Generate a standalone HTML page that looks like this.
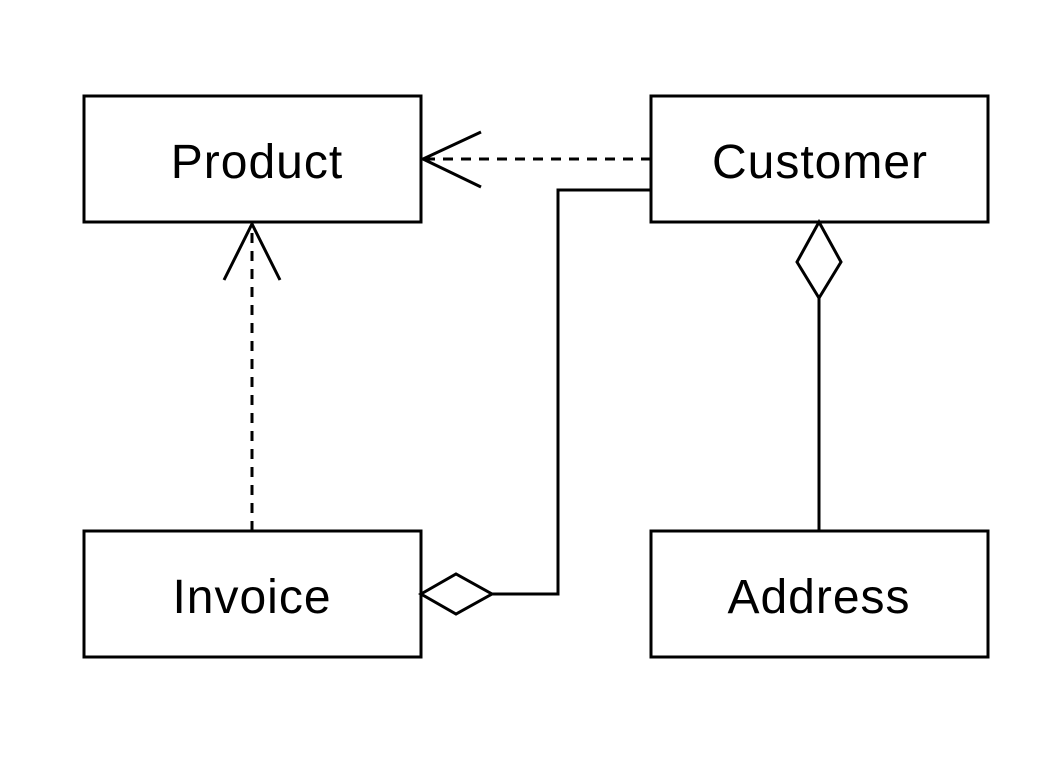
<!DOCTYPE html>
<html><head><style>html,body{margin:0;padding:0;background:#fff}</style></head>
<body>
<svg width="1060" height="754" viewBox="0 0 1060 754" xmlns="http://www.w3.org/2000/svg">
<g fill="#fff" stroke="#000" stroke-width="3">
<rect x="84" y="96" width="337" height="126"/>
<rect x="651" y="96" width="337" height="126"/>
<rect x="84" y="531" width="337" height="126"/>
<rect x="651" y="531" width="337" height="126"/>
</g>
<g fill="none" stroke="#000" stroke-width="3">
<line x1="651" y1="159" x2="424" y2="159" stroke-dasharray="10,8"/>
<polyline points="481,132 423,159 481,187"/>
<line x1="252" y1="531" x2="252" y2="225" stroke-dasharray="10,8"/>
<polyline points="224,280 252,224 280,280"/>
<polyline points="651,190 558,190 558,594 492,594"/>
<polygon points="421,594 456,574 492,594 456,614" fill="#fff"/>
<line x1="819" y1="298" x2="819" y2="531"/>
<polygon points="819,222 841,262 819,298 797,262" fill="#fff"/>
</g>
<g font-family="Liberation Sans, Arial, sans-serif" font-size="48" letter-spacing="1" text-anchor="middle" fill="#000">
<text x="257" y="178">Product</text>
<text x="820" y="178">Customer</text>
<text x="252" y="613">Invoice</text>
<text x="819" y="613">Address</text>
</g>
</svg>
</body></html>
